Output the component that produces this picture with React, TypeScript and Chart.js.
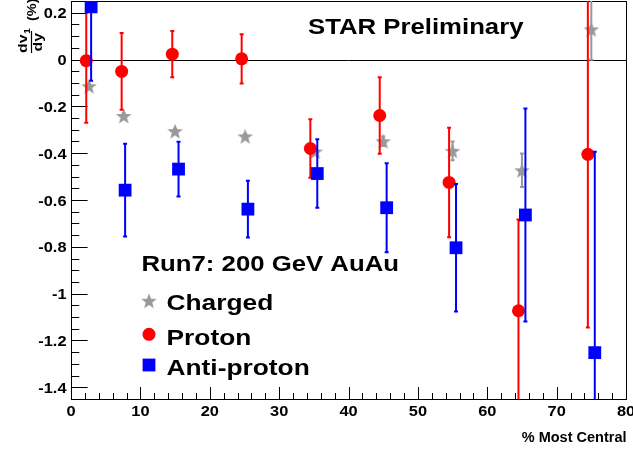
import React, { useEffect, useRef } from 'react';
import { Chart, registerables } from 'chart.js';
Chart.register(...registerables);

// ---- data ----
const chargedX = [2.6, 7.6, 15.0, 25.1, 35.2, 45.0, 55.0, 65.0, 75.0];
const chargedY = [-0.114, -0.241, -0.306, -0.328, -0.393, -0.349, -0.39, -0.473, 0.129];
const chargedErr = [0.01, 0.01, 0.01, 0.01, 0.01, 0.02, 0.04, 0.072, 0.13];

const protonX = [2.2, 7.3, 14.6, 24.6, 34.5, 44.5, 54.5, 64.5, 74.5];
const protonY = [-0.005, -0.051, 0.023, 0.003, -0.38, -0.239, -0.525, -1.073, -0.405];
const protonErr = [0.265, 0.164, 0.099, 0.105, 0.125, 0.163, 0.234, 0.39, 0.74];

const antiX = [2.9, 7.8, 15.5, 25.5, 35.5, 45.5, 55.5, 65.5, 75.5];
const antiY = [0.225, -0.558, -0.468, -0.639, -0.487, -0.633, -0.804, -0.664, -1.252];
const antiErr = [0.316, 0.198, 0.117, 0.121, 0.146, 0.19, 0.272, 0.455, 0.858];

const xTickValues = [0, 10, 20, 30, 40, 50, 60, 70, 80];
const xTickLabels = ['0', '10', '20', '30', '40', '50', '60', '70', '80'];
const yTickValues = [0.2, 0, -0.2, -0.4, -0.6, -0.8, -1, -1.2, -1.4];
const yTickLabels = ['0.2', '0', '-0.2', '-0.4', '-0.6', '-0.8', '-1', '-1.2', '-1.4'];

const seriesNames = ['Charged', 'Proton', 'Anti-proton'];
const headerText = 'Run7: 200 GeV AuAu';
const titleText = 'STAR Preliminary';
const xTitle = '% Most Central';

const GREY = 'rgb(153,153,153)';
const RED = 'rgb(255,0,0)';
const BLUE = 'rgb(0,0,255)';
const FONT = '"Liberation Sans", Arial, Helvetica, sans-serif';
const SX = 1.17;

function makeStar(color: string) {
  const c = document.createElement('canvas');
  c.width = 18;
  c.height = 18;
  const g = c.getContext('2d')!;
  g.fillStyle = color;
  g.beginPath();
  for (let i = 0; i < 10; i++) {
    const r = i % 2 === 0 ? 8.2 : 3.4;
    const a = -Math.PI / 2 + (i * Math.PI) / 5;
    const px = 9 + r * Math.cos(a);
    const py = 9.8 + r * Math.sin(a);
    if (i === 0) g.moveTo(px, py);
    else g.lineTo(px, py);
  }
  g.closePath();
  g.fill();
  return c;
}

function txt(ctx: CanvasRenderingContext2D, s: string, x: number, y: number, size: number, align: CanvasTextAlign = 'left', sx = SX) {
  ctx.save();
  ctx.translate(x, y);
  ctx.scale(sx, 1);
  ctx.font = `bold ${size}px ${FONT}`;
  ctx.textAlign = align;
  ctx.textBaseline = 'alphabetic';
  ctx.fillStyle = '#000';
  ctx.fillText(s, 0, 0);
  ctx.restore();
}

const errs = [chargedErr, protonErr, antiErr];
const errColors = [GREY, RED, BLUE];

export default function App() {
  const ref = useRef<HTMLCanvasElement>(null);
  useEffect(() => {
    document.body.style.margin = '0';
    const star = makeStar(GREY);
    const toPts = (xs: number[], ys: number[]) => xs.map((x, i) => ({ x, y: ys[i] }));

    const plugin = {
      id: 'rootStyle',
      beforeDatasetsDraw(chart: any) {
        const { ctx, chartArea: a, scales } = chart;
        const x = scales.x, y = scales.y;
        ctx.save();
        ctx.strokeStyle = '#000';
        ctx.lineWidth = 1;
        // zero line
        const y0 = Math.round(y.getPixelForValue(0)) + 0.5;
        ctx.beginPath();
        ctx.moveTo(a.left, y0);
        ctx.lineTo(a.right, y0);
        ctx.stroke();
        // frame
        ctx.strokeRect(a.left + 0.5, a.top + 0.5, a.right - a.left, a.bottom - a.top);
        // y ticks
        ctx.beginPath();
        for (let i = -29; i <= 5; i++) {
          const v = i * 0.05;
          const py = Math.round(y.getPixelForValue(v)) + 0.5;
          const len = i % 4 === 0 ? 16.6 : 8.3;
          ctx.moveTo(a.left, py);
          ctx.lineTo(a.left + len, py);
        }
        // x ticks
        for (let v = 0; v <= 80; v += 2) {
          const px = Math.round(x.getPixelForValue(v)) + 0.5;
          const len = v % 10 === 0 ? 12 : 6;
          ctx.moveTo(px, a.bottom + 0.5);
          ctx.lineTo(px, a.bottom - len);
        }
        ctx.stroke();
        ctx.restore();

        // tick labels
        yTickValues.forEach((v, i) => {
          txt(ctx, yTickLabels[i], a.left - 4.5, y.getPixelForValue(v) + 5.5, 14, 'right');
        });
        xTickValues.forEach((v, i) => {
          txt(ctx, xTickLabels[i], x.getPixelForValue(v), 416, 14, 'center');
        });
        txt(ctx, xTitle, a.right + 0.5, 442, 14.5, 'right', 1.0);

        // y title: dv1/dy (%)
        ctx.save();
        ctx.translate(31.5, 53);
        ctx.rotate(-Math.PI / 2);
        ctx.fillStyle = '#000';
        ctx.strokeStyle = '#000';
        ctx.lineWidth = 1.2;
        ctx.beginPath();
        ctx.moveTo(0, 0);
        ctx.lineTo(22, 0);
        ctx.stroke();
        ctx.textBaseline = 'alphabetic';
        ctx.font = `bold 13.5px ${FONT}`;
        ctx.textAlign = 'left';
        ctx.save();
        ctx.scale(SX, 1);
        ctx.fillText('dv', 0, -5);
        ctx.restore();
        const dvw = ctx.measureText('dv').width * SX;
        ctx.font = `bold 9px ${FONT}`;
        ctx.save();
        ctx.translate(dvw + 0.5, -2);
        ctx.scale(SX, 1);
        ctx.fillText('1', 0, 0);
        ctx.restore();
        ctx.font = `bold 13.5px ${FONT}`;
        ctx.save();
        ctx.translate(1.5, 10.5);
        ctx.scale(SX, 1);
        ctx.fillText('dy', 0, 0);
        ctx.restore();
        ctx.font = `bold 12.5px ${FONT}`;
        ctx.save();
        ctx.translate(32, 4);
        ctx.scale(SX, 1);
        ctx.fillText('(%)', 0, 0);
        ctx.restore();
        ctx.restore();
      },
      beforeDatasetDraw(chart: any, args: any) {
        const { ctx, chartArea: a, scales } = chart;
        const i = args.index;
        const ds = chart.data.datasets[i];
        const e = errs[i];
        if (!e) return;
        ctx.save();
        ctx.beginPath();
        ctx.rect(a.left, a.top, a.right - a.left, a.bottom - a.top);
        ctx.clip();
        ctx.strokeStyle = errColors[i];
        ctx.lineWidth = 2;
        ctx.beginPath();
        ds.data.forEach((p: any, k: number) => {
          const px = scales.x.getPixelForValue(p.x);
          const top = scales.y.getPixelForValue(p.y + e[k]);
          const bot = scales.y.getPixelForValue(p.y - e[k]);
          ctx.moveTo(px, top);
          ctx.lineTo(px, bot);
          ctx.moveTo(px - 2, top);
          ctx.lineTo(px + 2, top);
          ctx.moveTo(px - 2, bot);
          ctx.lineTo(px + 2, bot);
        });
        ctx.stroke();
        ctx.restore();
      },
      afterDraw(chart: any) {
        const { ctx } = chart;
        txt(ctx, titleText, 308, 33.5, 22, 'left');
        txt(ctx, headerText, 141.5, 270.5, 22, 'left');
        // legend markers
        ctx.drawImage(star, 149 - 9, 301.5 - 9.8);
        ctx.save();
        ctx.fillStyle = RED;
        ctx.beginPath();
        ctx.arc(149, 334.3, 6.5, 0, Math.PI * 2);
        ctx.fill();
        ctx.fillStyle = BLUE;
        ctx.fillRect(149 - 6.4, 365 - 6.4, 12.8, 12.8);
        ctx.restore();
        txt(ctx, seriesNames[0], 166.5, 309.5, 22.5, 'left');
        txt(ctx, seriesNames[1], 166.5, 345, 22.5, 'left');
        txt(ctx, seriesNames[2], 166.5, 374.5, 22.5, 'left');
      },
    };

    const chart = new Chart(ref.current!, {
      type: 'scatter',
      data: {
        datasets: [
          {
            label: seriesNames[0],
            data: toPts(chargedX, chargedY),
            pointStyle: star as any,
            pointRadius: 8,
            backgroundColor: GREY,
            borderColor: GREY,
            order: 2,
          },
          {
            label: seriesNames[1],
            data: toPts(protonX, protonY),
            pointStyle: 'circle',
            pointRadius: 6.5,
            pointBorderWidth: 0,
            backgroundColor: RED,
            borderColor: RED,
            order: 1,
          },
          {
            label: seriesNames[2],
            data: toPts(antiX, antiY),
            pointStyle: 'rect',
            pointRadius: 9.05,
            pointBorderWidth: 0,
            backgroundColor: BLUE,
            borderColor: BLUE,
            order: 0,
          },
        ],
      },
      options: {
        animation: false,
        responsive: false,
        devicePixelRatio: 1,
        events: [],
        layout: { autoPadding: false, padding: { left: 0, right: 7, top: 1, bottom: 0 } },
        plugins: { legend: { display: false }, tooltip: { enabled: false } },
        scales: {
          x: {
            type: 'linear',
            min: 0,
            max: 80,
            grid: { display: false },
            border: { display: false },
            ticks: { display: false },
            afterFit: (s: any) => { s.height = 52; },
          },
          y: {
            type: 'linear',
            min: -1.45,
            max: 0.25,
            grid: { display: false },
            border: { display: false },
            ticks: { display: false },
            afterFit: (s: any) => { s.width = 71; },
          },
        },
      },
      plugins: [plugin],
    });
    return () => chart.destroy();
  }, []);
  return (
    <div style={{ position: 'absolute', left: 0, top: 0, width: 633, height: 451 }}>
      <canvas ref={ref} width={633} height={451} style={{ display: 'block', width: 633, height: 451 }} />
    </div>
  );
}
